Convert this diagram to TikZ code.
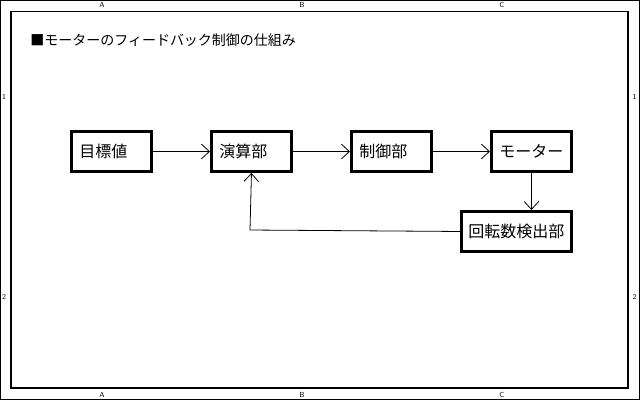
\documentclass[tikz,border=0pt]{standalone}
\usepackage{fontspec}
\newfontfamily\cjk{Noto Sans CJK JP}
\usetikzlibrary{arrows.meta}
\begin{document}
\begin{tikzpicture}[x=0.75pt,y=-0.75pt,
  box/.style={draw,line width=2.2pt,minimum width=80*0.75pt,minimum height=40*0.75pt,anchor=north west,inner sep=0pt,font=\cjk\fontsize{12}{14}\selectfont,text width=64*0.75pt,align=left},
  arr/.style={-{Straight Barb[length=6pt,width=11pt,line width=0.6pt]},line width=0.6pt},
  zl/.style={font=\sffamily\fontsize{5.5}{6}\selectfont,inner sep=0pt}]
\draw[line width=0.8pt,fill=white] (0.5,0.5) rectangle (639.5,399.5);
\draw[line width=0.8pt] (11,11) rectangle (628,388);
\foreach \x/\l in {102/A,302/B,502/C}{\node[zl] (t\l) at (\x,4.5) {\l}; \node[zl] (b\l) at (\x,395) {\l};}
\foreach \y/\l in {97/1,297/2}{\node[zl] (l\l) at (4,\y) {\l}; \node[zl] (r\l) at (634.5,\y) {\l};}
\node[anchor=west,inner sep=0pt,font=\cjk\fontsize{10.5}{12}\selectfont] (title) at (30,40) {■モーターのフィードバック制御の仕組み};
\node[box] (a) at (70,130) {目標値};
\node[box] (b) at (210,130) {演算部};
\node[box] (c) at (350,130) {制御部};
\node[box] (d) at (490,130) {モーター};
\node[box,minimum width=110*0.75pt,text width=96*0.75pt] (e) at (460,210) {回転数検出部};
\draw[arr] (a.east) -- (b.west);
\draw[arr] (b.east) -- (c.west);
\draw[arr] (c.east) -- (d.west);
\draw[arr] (d.south) -- (e.north -| d.south);
\draw[arr] (e.west) -- (250,230) -- (b.south);
\end{tikzpicture}
\end{document}
